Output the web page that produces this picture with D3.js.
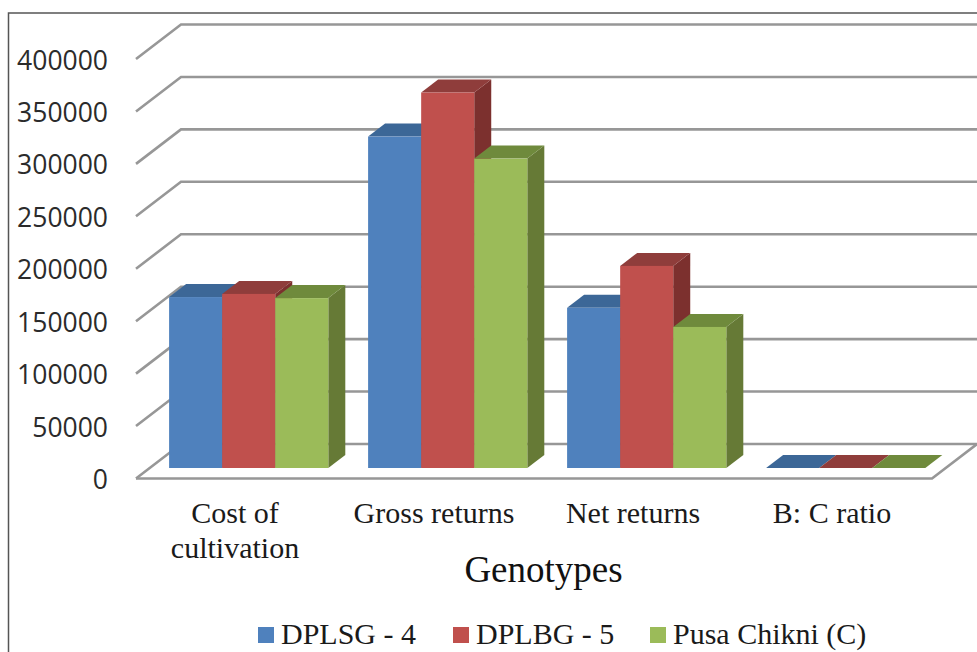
<!DOCTYPE html>
<html>
<head>
<meta charset="utf-8">
<script src="https://cdn.jsdelivr.net/npm/d3@7"></script>
<style>
  html, body { margin: 0; padding: 0; background: #fff; overflow: hidden; }
  svg { display: block; }
</style>
</head>
<body>
<svg id="chart" width="977" height="652"></svg>
<script>
// Economics of three genotypes, drawn as a clustered column chart with a 3-D look.
const categories = ["Cost of cultivation", "Gross returns", "Net returns", "B: C ratio"];
const categoryLines = [["Cost of", "cultivation"], ["Gross returns"], ["Net returns"], ["B: C ratio"]];
const seriesNames = ["DPLSG - 4", "DPLBG - 5", "Pusa Chikni (C)"];
const dplsg4 = [163000, 316000, 152700, 2];
const dplbg5 = [166000, 358000, 192700, 2];
const pusaChikni = [162000, 295000, 134500, 2];
const seriesValues = [dplsg4, dplbg5, pusaChikni];
const yTicks = [0, 50000, 100000, 150000, 200000, 250000, 300000, 350000, 400000];

const frontColors = ["#4f81bd", "#c0504d", "#9bbb59"];
const topColors = ["#3c6797", "#8f3d3b", "#6f8a3c"];
const sideColors = ["#335680", "#7c302e", "#667a36"];

const svg = d3.select("#chart");

const x = d3.scaleBand().domain(categories).range([136, 932]).paddingInner(0.2).paddingOuter(0.1);
const xSeries = d3.scaleBand().domain(seriesNames).range([0, x.bandwidth()]);
const y = d3.scaleLinear().domain([0, 400000]).range([478.5, 59]);

// Oblique offsets: wall depth, and where the columns sit inside the floor.
const wall = { dx: 45, dy: -34.5 };
const barInset = { dx: 13.2, dy: -10.5 };
const barDepth = { dx: 17, dy: -13 };

// Outer frame, open on the right and at the bottom
svg.append("path")
  .attr("d", "M8.5,652V13H977")
  .attr("fill", "none").attr("stroke", "#555").attr("stroke-width", 1.5);

// Gridlines: side wall plus back wall
const left = x.range()[0], right = x.range()[1];
const gridColor = "#979797";
svg.append("g").selectAll("path").data(yTicks).join("path")
  .attr("d", d => {
    const yy = y(d);
    return `M${left},${yy}L${left + wall.dx},${yy + wall.dy}L${right + wall.dx},${yy + wall.dy}`;
  })
  .attr("fill", "none").attr("stroke", gridColor).attr("stroke-width", 2.6);

// Floor edge
svg.append("path")
  .attr("d", `M${left},${y(0)}L${right},${y(0)}L${right + wall.dx},${y(0) + wall.dy}`)
  .attr("fill", "none").attr("stroke", gridColor).attr("stroke-width", 2.6);

// Columns, painted left to right so each one overlaps its neighbour's side face
const bars = svg.append("g");
categories.forEach((cat, ci) => {
  seriesNames.forEach((name, si) => {
    const x0 = x(cat) + xSeries(name) + barInset.dx;
    const x1 = x0 + xSeries.bandwidth();
    const yBase = y(0) + barInset.dy;
    const yTop = y(seriesValues[si][ci]) + barInset.dy;
    const dx = barDepth.dx, dy = barDepth.dy;
    bars.append("path")
      .attr("d", `M${x1},${yBase}L${x1 + dx},${yBase + dy}L${x1 + dx},${yTop + dy}L${x1},${yTop}Z`)
      .attr("fill", sideColors[si]);
    bars.append("path")
      .attr("d", `M${x0},${yTop}L${x0 + dx},${yTop + dy}L${x1 + dx},${yTop + dy}L${x1},${yTop}Z`)
      .attr("fill", topColors[si]);
    bars.append("rect")
      .attr("x", x0).attr("y", yTop)
      .attr("width", x1 - x0).attr("height", yBase - yTop)
      .attr("fill", frontColors[si]);
  });
});

// Value axis labels
svg.append("g").selectAll("text").data(yTicks).join("text")
  .attr("x", 108).attr("y", d => y(d) + 10.5)
  .attr("text-anchor", "end")
  .attr("font-family", "'Open Sans', sans-serif").attr("font-size", 26.5)
  .attr("fill", "#2b2b2b")
  .text(d => d);

// Category labels
const catLabels = svg.append("g")
  .attr("font-family", "'Liberation Serif', serif").attr("font-size", 30)
  .attr("fill", "#1a1a1a").attr("text-anchor", "middle");
categories.forEach((cat, ci) => {
  const cx = x(cat) + x.bandwidth() / 2;
  categoryLines[ci].forEach((line, li) => {
    catLabels.append("text").attr("x", cx - 0.5).attr("y", 523 + li * 35).text(line);
  });
});

// Axis title
svg.append("text")
  .attr("x", 543.5).attr("y", 582).attr("text-anchor", "middle")
  .attr("font-family", "'Liberation Serif', serif").attr("font-size", 37)
  .attr("fill", "#111").text("Genotypes");

// Legend
const legendX = [258, 453, 650];
const legend = svg.append("g");
seriesNames.forEach((name, si) => {
  legend.append("rect")
    .attr("x", legendX[si]).attr("y", 627).attr("width", 16).attr("height", 16)
    .attr("fill", frontColors[si]);
  legend.append("text")
    .attr("x", legendX[si] + 23).attr("y", 644)
    .attr("font-family", "'Liberation Serif', serif").attr("font-size", 30)
    .attr("fill", "#1a1a1a").text(name);
});
</script>
</body>
</html>
